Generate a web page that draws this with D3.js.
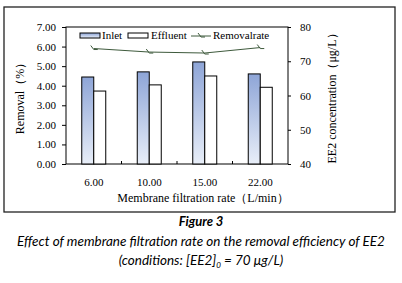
<!DOCTYPE html>
<html>
<head>
<meta charset="utf-8">
<script src="https://cdn.jsdelivr.net/npm/d3@7"></script>
<style>
  body { margin: 0; background: #fff; }
  svg text { font-family: "Liberation Serif", "Times New Roman", serif; fill: #000; }
  .caption { font-family: Lato, "Open Sans", sans-serif; font-style: italic; }
</style>
</head>
<body>
<svg id="chart" width="402" height="283"></svg>
<script>
"use strict";

// data
const rates = ["6.00", "10.00", "15.00", "22.00"];
const inlet = [65.4, 66.9, 69.8, 66.3];      // EE2 concentration, right axis
const effluent = [61.3, 63.1, 65.7, 62.4];   // EE2 concentration, right axis
const removal = [5.90, 5.72, 5.67, 5.95];    // removal rate, left axis
const leftTicks = [0, 1, 2, 3, 4, 5, 6, 7];
const rightTicks = [40, 50, 60, 70, 80];

// layout
const plot = { left: 66, right: 288, top: 27, bottom: 164 };
const svg = d3.select("#chart");

// gradient for inlet bars
const grad = svg.append("defs").append("linearGradient")
  .attr("id", "inletGrad").attr("x1", 0).attr("y1", 0).attr("x2", 0).attr("y2", 1);
grad.append("stop").attr("offset", "0%").attr("stop-color", "#8ea5d7");
grad.append("stop").attr("offset", "100%").attr("stop-color", "#e8eef8");

// outer frame
svg.append("rect")
  .attr("x", 4).attr("y", 7).attr("width", 391).attr("height", 205)
  .attr("fill", "none").attr("stroke", "#222").attr("stroke-width", 1.3);

// scales
const x = d3.scaleBand().domain(rates).range([plot.left, plot.right]);
const yL = d3.scaleLinear().domain([0, 7]).range([plot.bottom, plot.top]);
const yR = d3.scaleLinear().domain([40, 80]).range([plot.bottom, plot.top]);
const barW = 12;

// plot border
svg.append("rect")
  .attr("x", plot.left).attr("y", plot.top)
  .attr("width", plot.right - plot.left).attr("height", plot.bottom - plot.top)
  .attr("fill", "none").attr("stroke", "#000").attr("stroke-width", 1);

// bars
const groups = svg.append("g").attr("class", "bars")
  .selectAll("g").data(rates).join("g");

groups.append("rect")
  .attr("x", d => x(d) + x.bandwidth() / 2 - barW)
  .attr("y", (d, i) => yR(inlet[i]))
  .attr("width", barW)
  .attr("height", (d, i) => plot.bottom - yR(inlet[i]))
  .attr("fill", "url(#inletGrad)").attr("stroke", "#000").attr("stroke-width", 1);

groups.append("rect")
  .attr("x", d => x(d) + x.bandwidth() / 2)
  .attr("y", (d, i) => yR(effluent[i]))
  .attr("width", barW)
  .attr("height", (d, i) => plot.bottom - yR(effluent[i]))
  .attr("fill", "#fff").attr("stroke", "#000").attr("stroke-width", 1);

// left axis
const axL = svg.append("g")
  .attr("transform", `translate(${plot.left},0)`)
  .call(d3.axisLeft(yL).tickValues(leftTicks).tickFormat(d3.format(".2f")).tickSize(4).tickPadding(6));
axL.select(".domain").remove();
axL.selectAll("text").attr("font-size", 11);

// right axis
const axR = svg.append("g")
  .attr("transform", `translate(${plot.right},0)`)
  .call(d3.axisRight(yR).tickValues(rightTicks).tickSize(3).tickPadding(9));
axR.select(".domain").remove();
axR.selectAll("text").attr("font-size", 11);

// x axis
const axX = svg.append("g")
  .attr("transform", `translate(0,${plot.bottom})`)
  .call(d3.axisBottom(x).tickSize(0).tickPadding(14));
axX.select(".domain").remove();
axX.selectAll("text").attr("font-size", 11);
svg.append("g").selectAll("line")
  .data(rates.slice(1)).join("line")
  .attr("x1", d => x(d)).attr("x2", d => x(d))
  .attr("y1", plot.bottom).attr("y2", plot.bottom - 3)
  .attr("stroke", "#000");

// removal rate line
const lineColor = "#3e5a3c";
const line = d3.line()
  .x((d, i) => x(rates[i]) + x.bandwidth() / 2)
  .y(d => yL(d));
svg.append("path")
  .datum(removal)
  .attr("d", line)
  .attr("fill", "none").attr("stroke", lineColor).attr("stroke-width", 1);

const marker = "M-3,-3 L0,1 L4,1";
svg.append("g").selectAll("path")
  .data(removal).join("path")
  .attr("transform", (d, i) => `translate(${x(rates[i]) + x.bandwidth() / 2},${yL(d)})`)
  .attr("d", marker)
  .attr("fill", "none").attr("stroke", lineColor).attr("stroke-width", 1);

// legend
const lg = svg.append("g").attr("class", "legend");
lg.append("rect").attr("x", 80).attr("y", 33).attr("width", 20).attr("height", 5)
  .attr("fill", "url(#inletGrad)").attr("stroke", "#000");
lg.append("text").attr("x", 102).attr("y", 39).attr("font-size", 11).text("Inlet");
lg.append("rect").attr("x", 128).attr("y", 33).attr("width", 20).attr("height", 5)
  .attr("fill", "#fff").attr("stroke", "#000");
lg.append("text").attr("x", 151).attr("y", 39).attr("font-size", 11).text("Effluent");
lg.append("line").attr("x1", 191).attr("x2", 211).attr("y1", 36).attr("y2", 36)
  .attr("stroke", lineColor);
lg.append("path").attr("transform", "translate(201,36)").attr("d", marker)
  .attr("fill", "none").attr("stroke", lineColor);
lg.append("text").attr("x", 213).attr("y", 39).attr("font-size", 11).text("Removalrate");

// axis titles
svg.append("text")
  .attr("transform", `translate(24,${(plot.top + plot.bottom) / 2}) rotate(-90)`)
  .attr("text-anchor", "middle").attr("font-size", 12)
  .text("Removal（%）");
svg.append("text")
  .attr("transform", `translate(336,${(plot.top + plot.bottom) / 2}) rotate(-90)`)
  .attr("text-anchor", "middle").attr("font-size", 12)
  .text("EE2 concentration（μg/L）");
svg.append("text")
  .attr("x", 203).attr("y", 202)
  .attr("text-anchor", "middle").attr("font-size", 12)
  .text("Membrane filtration rate（L/min）");

// caption
svg.append("text").attr("class", "caption")
  .attr("x", 201).attr("y", 226).attr("text-anchor", "middle")
  .attr("font-size", 13).attr("font-weight", "bold")
  .text("Figure 3");
svg.append("text").attr("class", "caption")
  .attr("x", 201).attr("y", 246).attr("text-anchor", "middle")
  .attr("font-size", 13.5)
  .text("Effect of membrane filtration rate on the removal efficiency of EE2");
const cond = svg.append("text").attr("class", "caption")
  .attr("x", 201).attr("y", 265).attr("text-anchor", "middle")
  .attr("font-size", 13.5);
cond.append("tspan").text("(conditions: [EE2]");
cond.append("tspan").attr("dy", 3).attr("font-size", 8).text("0");
cond.append("tspan").attr("dy", -3).text(" = 70 μg/L)");
</script>
</body>
</html>
